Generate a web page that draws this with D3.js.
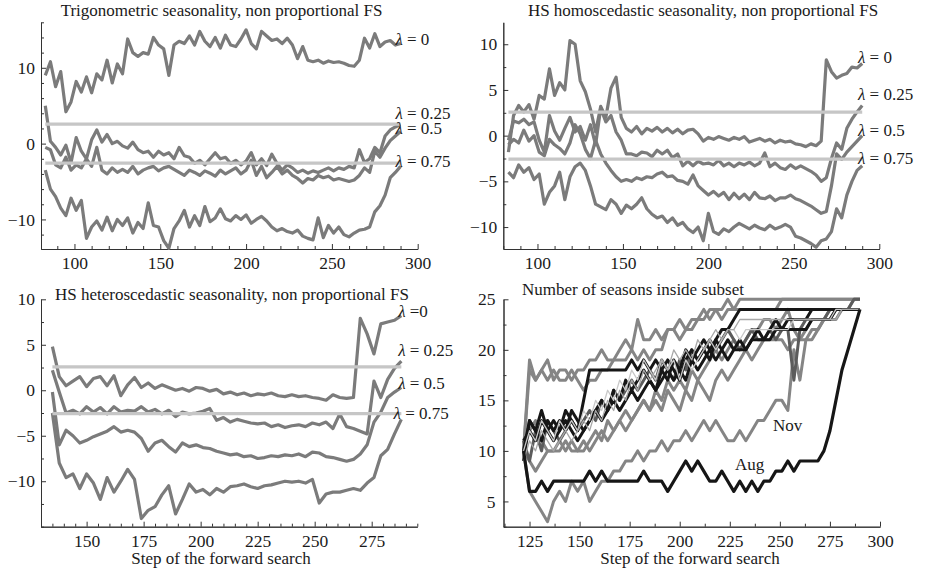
<!DOCTYPE html>
<html>
<head>
<meta charset="utf-8">
<script src="https://cdn.jsdelivr.net/npm/d3@7"></script>
<style>
  body { margin: 0; background: #fff; }
  svg text { font-family: "Liberation Serif", "Times New Roman", serif; fill: #1a1a1a; }
  .axis path, .axis line { stroke: #333; stroke-width: 1; }
  .axis text { font-family: "Liberation Serif", "Times New Roman", serif; font-size: 17.5px; fill: #1a1a1a; }
  .title { font-size: 17px; }
  .lab { font-size: 17px; }
</style>
</head>
<body>
<svg id="chart" width="926" height="569"></svg>
<script>
// forward search: every 3rd step is kept
const stepBy = 3;
const trigStart = 83, homoStart = 83, heteroStart = 135, seasStart = 122;
const bandLevel = 2.576;

// Trigonometric seasonality
const trigL0 = [
  9.0, 10.8, 7.5, 9.5, 4.2, 5.5, 8.2, 6.8, 8.8, 6.7,
  9.2, 8.4, 11.0, 8.0, 10.5, 9.2, 13.8, 12.0, 11.5, 12.0,
  11.8, 14.0, 13.0, 12.5, 9.0, 13.0, 13.5, 13.2, 14.2, 13.0,
  14.8, 13.5, 12.8, 14.0, 12.6, 14.3, 13.0, 12.8, 13.8, 15.0,
  13.2, 12.5, 14.8, 14.2, 13.6, 13.8, 13.2, 13.9, 13.0, 11.2,
  12.8, 11.0, 10.8, 11.0, 10.6, 10.9, 10.7, 10.8, 10.6, 10.3,
  10.2, 11.0, 13.9, 12.6, 14.5, 12.8, 13.4, 13.6, 13.0, 13.2];
const trigL025 = [
  5.0, 0.3, -0.5, -1.5, -0.2, -2.5, 0.8, -1.0, -2.0, 0.5,
  1.8, 0.2, 1.2, 0.0, 0.3, -0.3, -0.6, 0.2, -0.8, -1.2,
  -1.0, -1.8, -1.0, -1.5, -1.2, -2.0, -0.5, -1.6, -1.8, -2.6,
  -2.2, -2.8, -2.0, -1.2, -2.0, -1.8, -2.6, -2.2, -2.8, -2.3,
  -1.2, -2.8, -2.0, -2.9, -1.4, -2.6, -3.5, -2.8, -3.2, -3.8,
  -3.5, -3.9, -3.6, -3.8, -3.5, -3.2, -3.6, -3.2, -3.4, -3.0,
  -3.2, -0.8, -2.5, -2.0, -0.5, -1.2, 1.0, 1.8, 2.2, 2.5];
const trigL05 = [
  -0.5, -0.8, -2.8, -3.2, -1.8, -3.5, -2.8, -3.2, -2.0, -3.0,
  -0.5, -3.5, -4.0, -3.2, -3.8, -3.4, -3.8, -3.0, -4.0, -3.5,
  -3.2, -3.0, -3.6, -3.2, -3.0, -3.4, -3.8, -4.2, -3.5, -3.8,
  -4.2, -3.6, -3.9, -4.3, -3.5, -4.0, -3.6, -3.2, -4.0, -3.5,
  -2.2, -4.2, -3.0, -4.5, -3.8, -3.0, -4.0, -3.5, -4.2, -4.6,
  -5.2, -4.6, -4.8, -4.2, -4.5, -4.3, -4.8, -4.6, -4.8, -5.0,
  -4.8, -4.2, -3.2, -3.8, -1.0, -1.8, -0.6, 0.4, 1.0, 1.6];
const trigL075 = [
  -3.5, -6.0, -7.0, -8.5, -9.5, -7.2, -8.8, -7.5, -12.5, -11.0,
  -10.2, -11.4, -9.7, -11.5, -10.0, -10.8, -9.8, -11.8, -10.4, -11.2,
  -7.8, -10.8, -11.0, -12.8, -13.8, -11.2, -10.2, -8.8, -11.0, -9.5,
  -10.8, -8.3, -10.3, -9.8, -8.6, -9.9, -10.2, -9.5, -10.0, -9.4,
  -10.5, -10.0, -9.6, -10.2, -11.0, -11.5, -11.2, -11.6, -11.8, -11.4,
  -12.2, -12.5, -12.7, -9.8, -12.4, -10.8, -11.8, -11.0, -12.0, -12.3,
  -11.8, -11.4, -11.3, -11.0, -9.0, -8.2, -6.8, -4.5, -3.8, -3.0];

// HS homoscedastic seasonality
const homoL0 = [
  -1.8, 2.2, 3.3, 2.6, 3.4, 1.8, 4.4, 4.0, 7.3, 4.4,
  5.8, 5.0, 10.4, 10.0, 6.0, 4.8, 2.9, 0.4, 3.2, 2.0,
  5.2, 6.4, 2.0, 0.8, 0.4, 1.0, 0.2, 0.8, 0.5, 0.9,
  0.4, 0.8, 0.3, 0.7, 0.2, 0.6, 0.7, 0.2, -0.6, -0.2,
  -0.4, -0.1, -0.3, -0.5, -0.2, -0.4, -0.1, -0.7, -0.5, -0.3,
  -0.6, -0.4, -0.8, -0.5, -0.7, -0.6, -0.9, -1.0, -1.2, -0.9,
  -1.1, -0.6, 8.3, 7.0, 6.3, 6.6, 6.8, 7.5, 7.4, 7.9];
const homoL025 = [
  -0.5, 1.6, 1.4, 1.8, 1.2, 1.5, -0.5, -1.8, 2.2, 0.5,
  -0.5, 0.8, 2.0, 0.4, 1.0, -0.5, 1.2, -1.0, 3.0, 1.5,
  2.2, 0.4, -0.5, -2.0, -2.0, -2.2, -1.8, -1.9, -2.3, -1.6,
  -2.0, -1.6, -2.4, -2.0, -3.3, -2.8, -3.3, -2.8, -3.1, -3.0,
  -3.2, -2.7, -3.3, -3.0, -3.4, -3.0, -3.2, -2.9, -3.3, -3.0,
  -1.9, -3.4, -3.0, -3.5, -3.7, -3.2, -3.6, -3.3, -3.6, -3.9,
  -4.3, -5.0, -4.6, -2.5, -0.8, -1.5, 0.8, 1.8, 2.6, 3.3];
const homoL05 = [
  -1.0, -0.4, -0.8, 0.6, -0.6, 0.0, -1.8, -2.2, -0.4, -1.0,
  -1.4, -2.0, -0.8, 1.2, 0.2, -1.5, -2.5, -0.5, -2.0, -3.0,
  -3.8, -4.5, -5.0, -4.8, -5.0, -4.6, -4.8, -4.5, -4.6, -4.2,
  -4.0, -4.5, -4.4, -4.9, -5.0, -5.3, -4.3, -5.5, -6.0, -6.5,
  -6.1, -6.6, -6.2, -7.0, -6.3, -6.9, -6.4, -7.0, -6.2, -6.8,
  -6.9, -6.6, -7.1, -6.8, -6.8, -6.5, -6.9, -7.1, -7.4, -7.7,
  -8.1, -8.5, -8.3, -5.5, -2.0, -2.6, -1.8, -1.2, -0.6, 0.0];
const homoL075 = [
  -4.0, -4.6, -3.2, -4.0, -3.5, -4.8, -4.2, -7.5, -6.2, -5.5,
  -4.0, -7.0, -4.5, -3.4, -3.0, -3.8, -5.5, -7.5, -7.8, -8.1,
  -7.0, -7.5, -8.5, -7.6, -8.0, -7.5, -6.8, -8.0, -8.6, -9.0,
  -8.8, -9.5, -9.0, -9.8, -9.5, -10.2, -10.6, -10.0, -11.5, -8.5,
  -10.5, -10.8, -10.2, -10.5, -10.0, -9.6, -9.9, -10.2, -9.8, -10.1,
  -10.3, -9.8, -10.2, -10.0, -9.7, -10.0, -11.0, -11.2, -11.5, -11.8,
  -12.2, -11.5, -11.3, -10.5, -8.0, -9.0, -6.5, -5.0, -3.8, -3.3];

// HS heteroscedastic seasonality
const heteroL0 = [
  4.8, 1.5, 0.5, 1.0, 1.5, 0.4, 1.3, 1.5, 0.5, 1.6,
  -0.6, 0.6, 1.4, 0.3, 0.8, 0.2, 0.6, 0.3, 0.0, 0.2,
  -0.1, 0.3, 0.2, -0.1, 0.1, -0.4, -0.2, -0.5, -0.3, -0.6,
  -0.4, -0.5, -0.3, -0.6, -0.7, -0.5, -0.7, -0.6, -0.8, -0.9,
  -1.1, -0.5, -0.8, -0.9, -0.8, 7.9, 6.2, 4.0, 7.3, 7.5,
  7.7, 8.2];
const heteroL025 = [
  2.2, -0.2, -2.5, -2.2, -2.6, -1.8, -2.4, -1.9, -2.6, -1.8,
  -2.4, -2.2, -2.3, -1.8, -2.4, -2.1, -2.6, -2.2, -2.9, -2.4,
  -2.6, -2.5, -2.3, -2.0, -3.3, -3.0, -3.5, -3.2, -3.4, -3.6,
  -3.7, -3.6, -4.0, -3.8, -4.1, -3.9, -3.8, -4.0, -3.6, -3.8,
  -3.5, -4.2, -2.6, -4.0, -4.2, -4.5, -4.8, 1.0, -0.8, 1.2,
  2.4, 3.2];
const heteroL05 = [
  -0.2, -6.0, -4.4, -5.0, -5.8, -5.5, -5.1, -4.8, -4.5, -4.0,
  -4.6, -4.4, -4.6, -5.3, -6.7, -5.8, -5.5, -6.2, -6.8, -5.8,
  -6.2, -6.0, -6.3, -6.4, -6.7, -6.9, -7.1, -7.0, -7.3, -7.2,
  -7.5, -7.4, -7.2, -7.3, -7.1, -7.2, -7.0, -7.3, -6.8, -6.9,
  -7.3, -7.4, -7.6, -7.8, -7.6, -7.0, -6.0, -3.5, -2.4, -0.8,
  -0.2, 0.3];
const heteroL075 = [
  -2.5, -8.0, -9.6, -9.2, -10.8, -9.2, -10.2, -12.0, -9.6, -11.2,
  -10.0, -8.7, -9.8, -14.1, -13.2, -12.8, -11.5, -10.5, -13.6, -12.0,
  -10.3, -11.2, -10.9, -11.5, -10.8, -11.2, -10.6, -10.5, -10.3, -10.6,
  -10.8, -10.5, -10.4, -10.2, -10.0, -10.1, -10.0, -10.2, -9.8, -12.4,
  -11.4, -11.2, -11.2, -11.0, -10.8, -11.0, -10.2, -9.6, -7.2, -6.5,
  -4.8, -3.2];

// number of observations of each month inside the subset
const seasonAug = [
  10, 6, 6, 7, 6, 7, 7, 7, 7, 7,
  7, 8, 7, 8, 7, 7, 7, 7, 7, 7,
  8, 7, 7, 7, 6, 7, 8, 9, 8, 9,
  8, 7, 7, 8, 7, 6, 7, 6, 7, 6,
  7, 7, 8, 8, 9, 8, 9, 9, 9, 9,
  10, 12, 15, 18, 20, 22, 24];
const seasonNov = [
  10, 6, 5, 4, 3, 5, 6, 5, 7, 6,
  7, 5, 6, 7, 7, 8, 8, 9, 9, 10,
  9, 10, 10, 11, 10, 11, 11, 12, 11, 12,
  13, 12, 13, 12, 11, 11, 12, 11, 12, 13,
  13, 14, 15, 15, 14, 20, 17, 21, 22, 22,
  23, 23, 24, 24, 24, 25, 25];
const seasonG1 = [
  10, 19, 17, 18, 19, 17, 18, 18, 17, 18,
  18, 19, 19, 20, 19, 19, 20, 21, 20, 23,
  21, 21, 22, 21, 22, 22, 23, 22, 23, 23,
  24, 23, 24, 24, 25, 24, 25, 25, 25, 25,
  25, 25, 25, 25, 25, 25, 25, 25, 25, 25,
  25, 25, 25, 25, 25, 25, 25];
const seasonG2 = [
  10, 18, 17, 18, 17, 18, 17, 17, 18, 17,
  16, 17, 17, 18, 18, 19, 19, 19, 20, 19,
  20, 19, 20, 20, 22, 22, 21, 22, 22, 23,
  23, 24, 24, 23, 24, 24, 24, 24, 24, 24,
  24, 24, 24, 25, 25, 25, 25, 25, 25, 25,
  25, 25, 25, 25, 25, 25, 25];
const seasonG3 = [
  10, 12, 13, 11, 10, 10, 10, 11, 10, 10,
  11, 10, 11, 12, 11, 12, 13, 12, 13, 14,
  15, 14, 16, 15, 17, 16, 17, 16, 18, 17,
  18, 19, 20, 19, 20, 21, 20, 21, 22, 22,
  23, 23, 22, 23, 24, 22, 21, 22, 23, 23,
  23, 24, 24, 24, 24, 24, 24];
const seasonG4 = [
  10, 9, 8, 9, 10, 10, 11, 10, 11, 10,
  10, 11, 12, 11, 13, 12, 13, 14, 13, 14,
  15, 14, 15, 14, 16, 15, 14, 16, 15, 17,
  16, 15, 17, 18, 17, 18, 19, 20, 19, 20,
  21, 21, 21, 21, 20, 21, 21, 21, 21, 22,
  23, 23, 23, 24, 24, 24, 24];
const seasonG5 = [
  11, 9, 12, 10, 13, 12, 11, 12, 13, 12,
  13, 14, 13, 15, 14, 16, 15, 16, 17, 16,
  17, 18, 17, 19, 18, 17, 19, 18, 20, 19,
  20, 21, 20, 21, 22, 21, 20, 21, 22, 21,
  21, 22, 21, 22, 22, 17, 22, 23, 23, 23,
  23, 24, 24, 24, 24, 25, 25];
const seasonB1 = [
  10, 13, 12, 14, 12, 13, 12, 14, 13, 12,
  15, 18, 18, 18, 18, 18, 18, 18, 19, 18,
  19, 18, 19, 18, 17, 19, 18, 20, 19, 20,
  21, 20, 21, 22, 22, 23, 24, 24, 24, 24,
  24, 24, 24, 24, 24, 24, 24, 24, 24, 24,
  24, 24, 24, 24, 24, 24, 24];
const seasonB2 = [
  11, 12, 11, 13, 12, 11, 12, 13, 12, 11,
  12, 13, 14, 13, 14, 15, 14, 15, 16, 15,
  16, 17, 16, 17, 18, 17, 18, 17, 19, 18,
  19, 20, 19, 20, 21, 20, 21, 20, 21, 22,
  21, 22, 23, 22, 23, 23, 23, 23, 24, 24,
  24, 24, 24, 24, 24, 24, 24];
const seasonB3 = [
  9, 13, 12, 11, 13, 12, 13, 12, 14, 13,
  12, 13, 14, 15, 14, 16, 15, 17, 16, 17,
  18, 17, 16, 18, 19, 18, 17, 19, 20, 19,
  20, 19, 21, 20, 19, 20, 20, 20, 21, 21,
  21, 21, 22, 22, 22, 22, 22, 22, 23, 23,
  23, 23, 24, 24, 24, 24, 24];
const seasonL1 = [
  10, 12, 11, 13, 12, 11, 13, 12, 13, 12,
  14, 13, 15, 14, 16, 15, 17, 16, 18, 17,
  19, 18, 17, 19, 18, 19, 17, 19, 18, 19,
  20, 21, 20, 21, 22, 22, 21, 22, 22, 22,
  22, 22, 22, 22, 22, 23, 23, 23, 23, 23,
  23, 23, 24, 24, 24, 24, 24];
const seasonL2 = [
  9, 11, 10, 12, 11, 10, 11, 12, 11, 12,
  13, 12, 14, 13, 15, 14, 16, 15, 17, 16,
  18, 17, 18, 19, 18, 20, 19, 20, 19, 21,
  20, 21, 22, 21, 22, 22, 23, 23, 23, 23,
  23, 23, 23, 23, 23, 23, 23, 23, 23, 23,
  23, 23, 23, 24, 24, 24, 24];

const svg = d3.select('#chart');
svg.append('rect').attr('width', 926).attr('height', 569).attr('fill', '#fff');

function range(lo, hi, step) {
  return d3.range(Math.ceil(lo / step) * step, hi + 1e-9, step);
}

function makePanel(cfg) {
  const x = d3.scaleLinear().domain(cfg.xDomain).range([cfg.left, cfg.right]);
  const y = d3.scaleLinear().domain(cfg.yDomain).range([cfg.bottom, cfg.top]);
  const g = svg.append('g');

  const xMinor = range(cfg.xDomain[0], cfg.xDomain[1], cfg.xMinorStep).filter(v => !cfg.xMajor.includes(v));
  const yMinor = range(cfg.yDomain[0], cfg.yDomain[1], cfg.yMinorStep).filter(v => !cfg.yMajor.includes(v));

  // ticks point inwards, minor ones are shorter
  g.append('g').attr('class', 'axis')
    .attr('transform', 'translate(0,' + cfg.bottom + ')')
    .call(d3.axisBottom(x).tickValues(xMinor).tickSize(-3).tickSizeOuter(0).tickFormat(''));
  g.append('g').attr('class', 'axis')
    .attr('transform', 'translate(0,' + cfg.bottom + ')')
    .call(d3.axisBottom(x).tickValues(cfg.xMajor).tickSize(-5).tickSizeOuter(0).tickPadding(8));
  g.append('g').attr('class', 'axis')
    .attr('transform', 'translate(' + cfg.left + ',0)')
    .call(d3.axisLeft(y).tickValues(yMinor).tickSize(-3).tickSizeOuter(0).tickFormat(''));
  g.append('g').attr('class', 'axis')
    .attr('transform', 'translate(' + cfg.left + ',0)')
    .call(d3.axisLeft(y).tickValues(cfg.yMajor).tickSize(-5).tickSizeOuter(0).tickPadding(cfg.yPad || 6));

  return { g, x, y };
}

function drawSeries(p, values, start, color, width) {
  const line = d3.line()
    .x((d, i) => p.x(start + i * stepBy))
    .y(d => p.y(d));
  p.g.append('path')
    .datum(values)
    .attr('d', line)
    .attr('fill', 'none')
    .attr('stroke', color)
    .attr('stroke-width', width)
    .attr('stroke-linejoin', 'round');
}

function drawBands(p, start, n) {
  [bandLevel, -bandLevel].forEach(v => {
    p.g.append('line')
      .attr('x1', p.x(start)).attr('x2', p.x(start + (n - 1) * stepBy))
      .attr('y1', p.y(v)).attr('y2', p.y(v))
      .attr('stroke', '#c6c6c6')
      .attr('stroke-width', 3.2);
  });
}

function lambdaLabel(p, step, val, rest) {
  const t = p.g.append('text').attr('class', 'lab')
    .attr('x', p.x(step)).attr('y', p.y(val));
  t.append('tspan').style('font-style', 'italic').text('λ');
  t.append('tspan').text(rest);
}

const curveColor = '#7b7b7b';

// ---- panel 1
const p1 = makePanel({
  left: 41, right: 417.7, top: 22.3, bottom: 249,
  xDomain: [80.5, 300], yDomain: [-13.9, 16],
  xMajor: [100, 150, 200, 250, 300], xMinorStep: 10,
  yMajor: [-10, 0, 10], yMinorStep: 2
});
[trigL0, trigL025, trigL05, trigL075].forEach(s => drawSeries(p1, s, trigStart, curveColor, 3.2));
drawBands(p1, trigStart, trigL0.length);
p1.g.append('text').attr('class', 'title').attr('x', 221.5).attr('y', 16)
  .attr('text-anchor', 'middle').text('Trigonometric seasonality, non proportional FS');
lambdaLabel(p1, 287, 13.0, ' = 0');
lambdaLabel(p1, 287, 3.3, ' = 0.25');
lambdaLabel(p1, 287, 1.3, ' = 0.5');
lambdaLabel(p1, 287, -3.1, ' = 0.75');

// ---- panel 2
const p2 = makePanel({
  left: 503.3, right: 879.3, top: 22.3, bottom: 249,
  xDomain: [80, 300], yDomain: [-12.4, 12.4],
  xMajor: [100, 150, 200, 250, 300], xMinorStep: 10,
  yMajor: [-10, -5, 0, 5, 10], yMinorStep: 2.5
});
[homoL0, homoL025, homoL05, homoL075].forEach(s => drawSeries(p2, s, homoStart, curveColor, 3.2));
drawBands(p2, homoStart, homoL0.length);
p2.g.append('text').attr('class', 'title').attr('x', 703).attr('y', 16)
  .attr('text-anchor', 'middle').text('HS homoscedastic seasonality, non proportional FS');
lambdaLabel(p2, 287.5, 8.0, ' = 0');
lambdaLabel(p2, 287.5, 3.9, ' = 0.25');
lambdaLabel(p2, 287.5, 0.0, ' = 0.5');
lambdaLabel(p2, 287.5, -3.1, ' = 0.75');

// ---- panel 3
const p3 = makePanel({
  left: 41, right: 417.3, top: 299.3, bottom: 526.7,
  xDomain: [130, 295], yDomain: [-15, 10],
  xMajor: [150, 175, 200, 225, 250, 275], xMinorStep: 5,
  yMajor: [-10, -5, 0, 5, 10], yMinorStep: 2.5
});
[heteroL0, heteroL025, heteroL05, heteroL075].forEach(s => drawSeries(p3, s, heteroStart, curveColor, 3.2));
drawBands(p3, heteroStart, heteroL0.length);
p3.g.append('text').attr('class', 'title').attr('x', 55).attr('y', 300)
  .text('HS heteroscedastic seasonality, non proportional FS');
lambdaLabel(p3, 286.6, 8.0, ' =0');
lambdaLabel(p3, 286.6, 3.8, ' = 0.25');
lambdaLabel(p3, 286.6, 0.15, ' = 0.5');
lambdaLabel(p3, 284.6, -3.2, ' = 0.75');
p3.g.append('text').attr('class', 'title').attr('x', 221).attr('y', 564)
  .attr('text-anchor', 'middle').text('Step of the forward search');

// ---- panel 4
const p4 = makePanel({
  left: 503.5, right: 880, top: 299.3, bottom: 526.7,
  xDomain: [112, 300], yDomain: [2.5, 25],
  xMajor: [125, 150, 175, 200, 225, 250, 275, 300], xMinorStep: 12.5,
  yMajor: [5, 10, 15, 20, 25], yMinorStep: 2.5, yPad: 8
});
const grey = '#858585', dark = '#5c5c5c', black = '#161616', light = '#c8c8c8';
drawSeries(p4, seasonG1, seasStart, grey, 3);
drawSeries(p4, seasonG2, seasStart, grey, 3);
drawSeries(p4, seasonG3, seasStart, grey, 3);
drawSeries(p4, seasonG4, seasStart, grey, 3);
drawSeries(p4, seasonNov, seasStart, grey, 3);
drawSeries(p4, seasonG5, seasStart, dark, 3);
drawSeries(p4, seasonB1, seasStart, black, 3);
drawSeries(p4, seasonB2, seasStart, black, 3);
drawSeries(p4, seasonB3, seasStart, black, 3);
drawSeries(p4, seasonL1, seasStart, light, 1.3);
drawSeries(p4, seasonL2, seasStart, '#a8a8a8', 1.3);
drawSeries(p4, seasonAug, seasStart, black, 3.2);
p4.g.append('text').attr('class', 'title').attr('x', 522).attr('y', 295)
  .text('Number of seasons inside subset');
p4.g.append('text').attr('class', 'lab').attr('x', p4.x(246.6)).attr('y', p4.y(12.0)).text('Nov');
p4.g.append('text').attr('class', 'lab').attr('x', p4.x(227.6)).attr('y', p4.y(8.1)).text('Aug');
p4.g.append('text').attr('class', 'title').attr('x', 690).attr('y', 564)
  .attr('text-anchor', 'middle').text('Step of the forward search');
</script>
</body>
</html>
